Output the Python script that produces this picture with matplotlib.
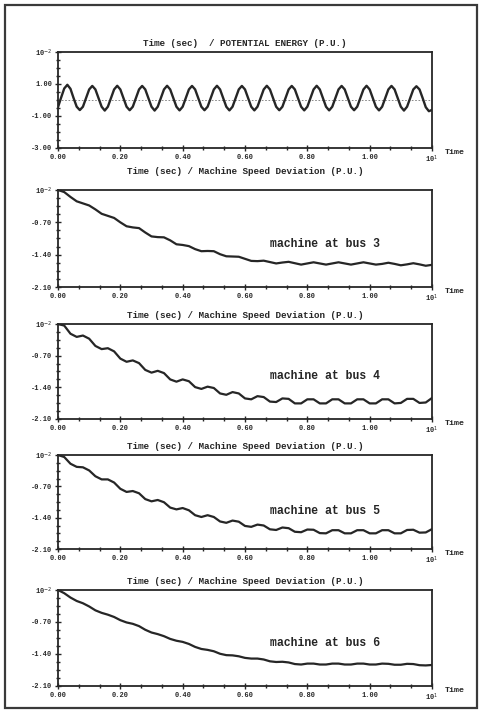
import numpy as np
import matplotlib
matplotlib.use("Agg")
import matplotlib.pyplot as plt
from matplotlib.patches import Rectangle

# time axis is in units of 10 s (the "10^1" at the end of the axis)
t_energy = np.linspace(0, 1.2, 121)
energy = [
    -0.45, 0.15, 0.72, 0.95, 0.70, 0.12, -0.42, -0.63,
    -0.42, 0.12, 0.66, 0.88, 0.66, 0.12, -0.42, -0.66,
    -0.42, 0.12, 0.66, 0.89, 0.66, 0.12, -0.42, -0.64,
    -0.42, 0.12, 0.66, 0.88, 0.66, 0.12, -0.42, -0.66,
    -0.42, 0.12, 0.66, 0.89, 0.66, 0.12, -0.42, -0.65,
    -0.42, 0.12, 0.66, 0.88, 0.66, 0.12, -0.42, -0.64,
    -0.42, 0.12, 0.66, 0.89, 0.66, 0.12, -0.42, -0.65,
    -0.42, 0.12, 0.66, 0.88, 0.66, 0.12, -0.42, -0.65,
    -0.42, 0.12, 0.66, 0.89, 0.66, 0.12, -0.42, -0.64,
    -0.42, 0.12, 0.66, 0.88, 0.66, 0.12, -0.42, -0.65,
    -0.42, 0.12, 0.66, 0.89, 0.66, 0.12, -0.42, -0.65,
    -0.42, 0.12, 0.66, 0.88, 0.66, 0.12, -0.42, -0.64,
    -0.42, 0.12, 0.66, 0.89, 0.66, 0.12, -0.42, -0.65,
    -0.42, 0.12, 0.66, 0.88, 0.66, 0.12, -0.42, -0.66,
    -0.42, 0.12, 0.66, 0.86, 0.66, 0.12, -0.45, -0.70,
    -0.62,
]

t_speed = np.linspace(0, 1.2, 61)
speed_bus3 = [
    0.00, -0.045, -0.15, -0.245, -0.29, -0.335, -0.42, -0.515, -0.56, -0.605,
    -0.70, -0.785, -0.81, -0.825, -0.92, -1.005, -1.02, -1.025, -1.09, -1.175,
    -1.19, -1.215, -1.28, -1.325, -1.32, -1.325, -1.39, -1.435, -1.44, -1.445,
    -1.49, -1.535, -1.54, -1.53, -1.56, -1.59, -1.57, -1.555, -1.585, -1.615,
    -1.59, -1.565, -1.59, -1.615, -1.59, -1.565, -1.59, -1.615, -1.59, -1.565,
    -1.59, -1.615, -1.60, -1.575, -1.60, -1.63, -1.61, -1.585, -1.61, -1.64,
    -1.62,
]
speed_bus4 = [
    0.00, -0.035, -0.215, -0.285, -0.255, -0.325, -0.485, -0.555, -0.535, -0.605,
    -0.765, -0.835, -0.805, -0.865, -1.015, -1.075, -1.035, -1.085, -1.225, -1.275,
    -1.225, -1.265, -1.395, -1.435, -1.385, -1.415, -1.535, -1.565, -1.505, -1.535,
    -1.645, -1.665, -1.595, -1.615, -1.715, -1.725, -1.645, -1.655, -1.755, -1.755,
    -1.665, -1.665, -1.755, -1.755, -1.665, -1.665, -1.755, -1.755, -1.665, -1.665,
    -1.755, -1.755, -1.665, -1.665, -1.755, -1.745, -1.655, -1.655, -1.745, -1.735,
    -1.635,
]
speed_bus5 = [
    0.00, -0.045, -0.195, -0.265, -0.275, -0.345, -0.475, -0.545, -0.545, -0.615,
    -0.755, -0.825, -0.805, -0.855, -0.985, -1.035, -1.005, -1.055, -1.175, -1.215,
    -1.185, -1.235, -1.345, -1.385, -1.345, -1.385, -1.485, -1.515, -1.465, -1.49,
    -1.585, -1.605, -1.555, -1.575, -1.66, -1.675, -1.62, -1.635, -1.715, -1.725,
    -1.665, -1.67, -1.745, -1.75, -1.68, -1.68, -1.75, -1.75, -1.68, -1.68,
    -1.75, -1.75, -1.68, -1.68, -1.75, -1.75, -1.675, -1.67, -1.735, -1.73,
    -1.655,
]
speed_bus6 = [
    0.00, -0.07, -0.165, -0.24, -0.29, -0.36, -0.445, -0.50, -0.54, -0.59,
    -0.66, -0.71, -0.74, -0.79, -0.87, -0.93, -0.965, -1.01, -1.07, -1.11,
    -1.135, -1.18, -1.245, -1.29, -1.31, -1.34, -1.395, -1.425, -1.43, -1.45,
    -1.485, -1.50, -1.50, -1.52, -1.56, -1.575, -1.57, -1.585, -1.62, -1.63,
    -1.61, -1.61, -1.63, -1.63, -1.61, -1.61, -1.63, -1.63, -1.61, -1.61,
    -1.63, -1.63, -1.61, -1.615, -1.635, -1.635, -1.615, -1.62, -1.645, -1.65,
    -1.64,
]
buses = ["3", "4", "5", "6"]
speed_series = [speed_bus3, speed_bus4, speed_bus5, speed_bus6]

x_ticks = [0.0, 0.2, 0.4, 0.6, 0.8, 1.0, 1.2]
x_labels = ["0.00", "0.20", "0.40", "0.60", "0.80", "1.00", "10$^{1}$"]
energy_ticks = [-3.0, -1.0, 1.0, 3.0]
energy_labels = ["-3.00", "-1.00", "1.00", "10$^{-2}$"]
speed_ticks = [-2.1, -1.4, -0.7, 0.0]
speed_labels = ["-2.10", "-1.40", "-0.70", "10$^{-2}$"]

title_energy = "Time (sec)  / POTENTIAL ENERGY (P.U.)"
title_speed = "Time (sec) / Machine Speed Deviation (P.U.)"

W, H = 482, 713
INK = "#262626"
MONO = ["Liberation Mono", "DejaVu Sans Mono"]

fig = plt.figure(figsize=(W / 100, H / 100), dpi=100)
fig.patch.set_facecolor("white")
fig.add_artist(Rectangle((5 / W, 1 - 708 / H), 472 / W, 703 / H,
                         transform=fig.transFigure, fill=False,
                         lw=1.6, ec="#3a3a3a"))

# (top px, bottom px, title y px, note y px)
panels = [(52, 148, 43, None), (190, 287, 172, 244), (324, 419, 315, 376),
          (455, 549, 447, 511), (590, 686, 581, 643)]
left_px, right_px = 58, 432


def style_axes(ax, yticks, ylabels, ylim, yminor):
    ax.set_xlim(0, 1.2)
    ax.set_ylim(*ylim)
    ax.set_xticks(x_ticks)
    ax.set_xticklabels(x_labels)
    ax.set_xticks(np.arange(0, 1.2001, 0.2 / 3), minor=True)
    ax.set_yticks(yticks)
    ax.set_yticklabels(ylabels)
    ax.set_yticks(np.arange(ylim[0], ylim[1] + 1e-6, yminor), minor=True)
    for s in ax.spines.values():
        s.set_linewidth(1.3)
        s.set_color(INK)
    ax.tick_params(which="both", direction="inout", color=INK, width=1.0)
    ax.tick_params(which="major", length=4, labelsize=5, pad=2, labelcolor=INK)
    ax.tick_params(which="minor", length=3)
    for lab in ax.get_xticklabels() + ax.get_yticklabels():
        lab.set_family(MONO)
        lab.set_fontweight("bold")
    ax.annotate("Time", xy=(1, 0), xycoords="axes fraction",
                xytext=(9, -3), textcoords="offset points",
                ha="left", va="center", fontsize=6, family=MONO,
                fontweight="bold", color=INK)


for i, (top, bottom, ty, ny) in enumerate(panels):
    ax = fig.add_axes([left_px / W, 1 - bottom / H,
                       (right_px - left_px) / W, (bottom - top) / H])
    if i == 0:
        ax.axhline(0, color="#777777", lw=0.6, ls=(0, (2, 2)))
        ax.plot(t_energy, energy, color=INK, lw=1.7)
        style_axes(ax, energy_ticks, energy_labels, (-3.0, 3.0), 0.5)
        title = title_energy
    else:
        ax.plot(t_speed, speed_series[i - 1], color=INK, lw=1.6)
        style_axes(ax, speed_ticks, speed_labels, (-2.1, 0.0), 0.175)
        title = title_speed
        ax.text((325 - left_px) / (right_px - left_px), (bottom - ny) / (bottom - top),
                f"machine at bus {buses[i - 1]}", transform=ax.transAxes,
                ha="center", va="center", fontsize=8.3, family=MONO,
                fontweight="bold", color=INK)
    fig.text(245 / W, 1 - ty / H, title, ha="center", va="center",
             fontsize=6.7, family=MONO, fontweight="bold", color=INK)

fig.savefig("out.png", dpi=100, facecolor="white")
